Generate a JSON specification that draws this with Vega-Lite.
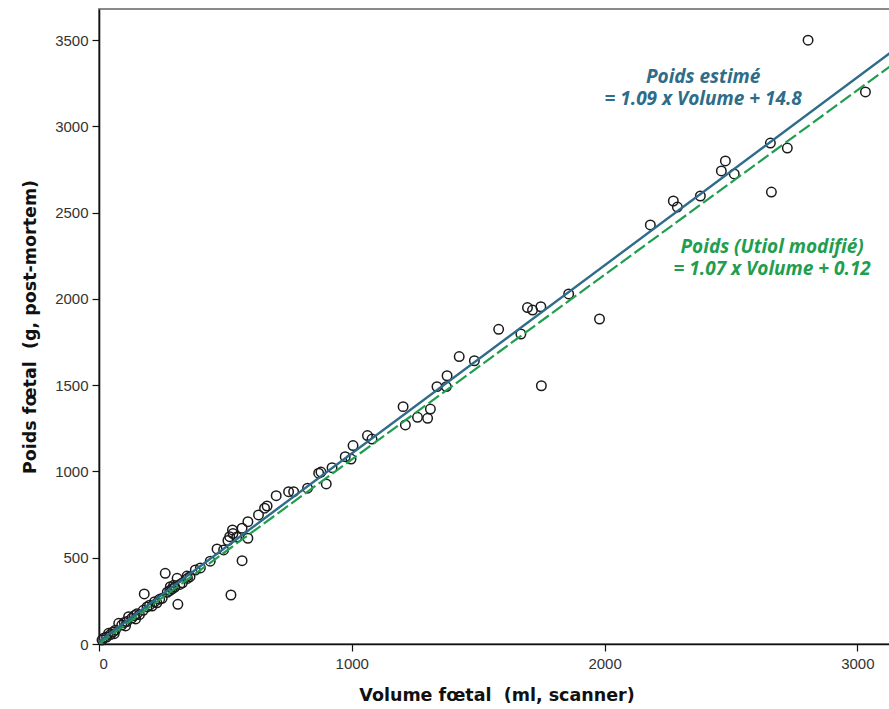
{
  "$schema": "https://vega.github.io/schema/vega-lite/v6.json",
  "autosize": "none",
  "padding": {"left": 99, "top": 9, "right": 0, "bottom": 65},
  "width": 795,
  "height": 635,
  "background": "white",
  "config": {
    "view": {"stroke": "#8a8a8a", "strokeWidth": 2},
    "axis": {
      "grid": false,
      "domainColor": "#111",
      "domainWidth": 1.6,
      "tickColor": "#111",
      "tickWidth": 1.2,
      "tickSize": 7,
      "labelFont": "Liberation Sans",
      "labelFontSize": 15,
      "labelColor": "#333",
      "titleFont": "DejaVu Sans",
      "titleFontWeight": "bold",
      "titleFontSize": 17.5,
      "titleColor": "#111",
      "format": "d"
    }
  },
  "datasets": {
    "pts": [
      {"v": 2805, "w": 3500}, {"v": 3032, "w": 3200}, {"v": 2656, "w": 2904}, {"v": 2723, "w": 2875},
      {"v": 2478, "w": 2800}, {"v": 2462, "w": 2742}, {"v": 2513, "w": 2725}, {"v": 2660, "w": 2620},
      {"v": 2379, "w": 2597}, {"v": 2272, "w": 2568}, {"v": 2288, "w": 2533}, {"v": 2181, "w": 2429},
      {"v": 1858, "w": 2029}, {"v": 1695, "w": 1950}, {"v": 1715, "w": 1936}, {"v": 1748, "w": 1955},
      {"v": 1581, "w": 1824}, {"v": 1669, "w": 1797}, {"v": 1980, "w": 1884}, {"v": 1750, "w": 1497},
      {"v": 1425, "w": 1666}, {"v": 1485, "w": 1642}, {"v": 1377, "w": 1555}, {"v": 1337, "w": 1492},
      {"v": 1374, "w": 1492}, {"v": 1203, "w": 1376}, {"v": 1311, "w": 1362}, {"v": 1260, "w": 1314},
      {"v": 1300, "w": 1308}, {"v": 1212, "w": 1270}, {"v": 1062, "w": 1208}, {"v": 1080, "w": 1188},
      {"v": 1005, "w": 1150}, {"v": 974, "w": 1086}, {"v": 997, "w": 1072}, {"v": 922, "w": 1022},
      {"v": 878, "w": 997}, {"v": 899, "w": 928}, {"v": 869, "w": 990}, {"v": 825, "w": 903},
      {"v": 750, "w": 883}, {"v": 770, "w": 883}, {"v": 701, "w": 860}, {"v": 665, "w": 800},
      {"v": 655, "w": 787}, {"v": 631, "w": 748}, {"v": 589, "w": 709}, {"v": 566, "w": 671},
      {"v": 528, "w": 661}, {"v": 517, "w": 622}, {"v": 589, "w": 613}, {"v": 467, "w": 551},
      {"v": 493, "w": 545}, {"v": 401, "w": 441}, {"v": 566, "w": 483}, {"v": 522, "w": 284},
      {"v": 510, "w": 600}, {"v": 530, "w": 640}, {"v": 545, "w": 620}, {"v": 440, "w": 480},
      {"v": 262, "w": 410}, {"v": 179, "w": 290}, {"v": 312, "w": 230}, {"v": 309, "w": 381},
      {"v": 348, "w": 394}, {"v": 381, "w": 429}, {"v": 282, "w": 332}, {"v": 229, "w": 239},
      {"v": 117, "w": 158}, {"v": 78, "w": 120}, {"v": 38, "w": 62}, {"v": 12, "w": 23},
      {"v": 20, "w": 35}, {"v": 30, "w": 40}, {"v": 45, "w": 55}, {"v": 55, "w": 70},
      {"v": 60, "w": 60}, {"v": 65, "w": 80}, {"v": 90, "w": 110}, {"v": 100, "w": 125},
      {"v": 105, "w": 105}, {"v": 110, "w": 130}, {"v": 130, "w": 150}, {"v": 140, "w": 165},
      {"v": 145, "w": 145}, {"v": 150, "w": 175}, {"v": 160, "w": 170}, {"v": 175, "w": 195},
      {"v": 190, "w": 215}, {"v": 200, "w": 225}, {"v": 210, "w": 220}, {"v": 220, "w": 245},
      {"v": 240, "w": 260}, {"v": 250, "w": 265}, {"v": 270, "w": 300}, {"v": 280, "w": 310},
      {"v": 290, "w": 320}, {"v": 295, "w": 340}, {"v": 300, "w": 330}, {"v": 320, "w": 345},
      {"v": 330, "w": 355}, {"v": 350, "w": 380}, {"v": 360, "w": 390}
    ],
    "fits": [
      {"fit": "estime", "v": 0, "w": 14.8}, {"fit": "estime", "v": 3145, "w": 3442.9},
      {"fit": "utiol", "v": 0, "w": 0.12}, {"fit": "utiol", "v": 3145, "w": 3365.3}
    ],
    "labels": [
      {"fit": "estime", "v": 2390, "w": 3287, "t": ["Poids estimé", "= 1.09 x Volume + 14.8"]},
      {"fit": "utiol", "v": 2663, "w": 2301, "t": ["Poids (Utiol modifié)", "= 1.07 x Volume + 0.12"]}
    ]
  },
  "layer": [
    {
      "data": {"name": "pts"},
      "mark": {"type": "point", "shape": "circle", "filled": false, "stroke": "#1a1a1a", "strokeWidth": 1.5, "size": 90, "opacity": 1},
      "encoding": {
        "x": {"field": "v", "type": "quantitative",
          "scale": {"domain": [0, 3145], "nice": false, "zero": false},
          "axis": {"values": [0, 1000, 2000, 3000], "labelPadding": 5, "titlePadding": 15,
            "title": "Volume fœtal \u00a0(ml, scanner)"}},
        "y": {"field": "w", "type": "quantitative",
          "scale": {"domain": [0, 3681], "nice": false, "zero": false},
          "axis": {"values": [0, 500, 1000, 1500, 2000, 2500, 3000, 3500], "labelPadding": 4, "titlePadding": 15,
            "title": "Poids fœtal \u00a0(g, post-mortem)"}}
      }
    },
    {
      "data": {"name": "fits"},
      "transform": [{"filter": "datum.fit === 'utiol'"}],
      "mark": {"type": "line", "color": "#1f9e4f", "strokeWidth": 2.2, "strokeDash": [13, 4], "clip": true},
      "encoding": {
        "x": {"field": "v", "type": "quantitative"},
        "y": {"field": "w", "type": "quantitative"}
      }
    },
    {
      "data": {"name": "fits"},
      "transform": [{"filter": "datum.fit === 'estime'"}],
      "mark": {"type": "line", "color": "#2e6c89", "strokeWidth": 2.4, "clip": true},
      "encoding": {
        "x": {"field": "v", "type": "quantitative"},
        "y": {"field": "w", "type": "quantitative"}
      }
    },
    {
      "data": {"name": "labels"},
      "mark": {"type": "text", "font": "Open Sans", "fontWeight": "bold", "fontStyle": "italic", "fontSize": 19,
        "align": "center", "baseline": "middle", "lineHeight": 22},
      "encoding": {
        "x": {"field": "v", "type": "quantitative"},
        "y": {"field": "w", "type": "quantitative"},
        "text": {"field": "t"},
        "color": {"field": "fit", "type": "nominal", "legend": null,
          "scale": {"domain": ["estime", "utiol"], "range": ["#2e6c89", "#1f9e4f"]}}
      }
    }
  ]
}
